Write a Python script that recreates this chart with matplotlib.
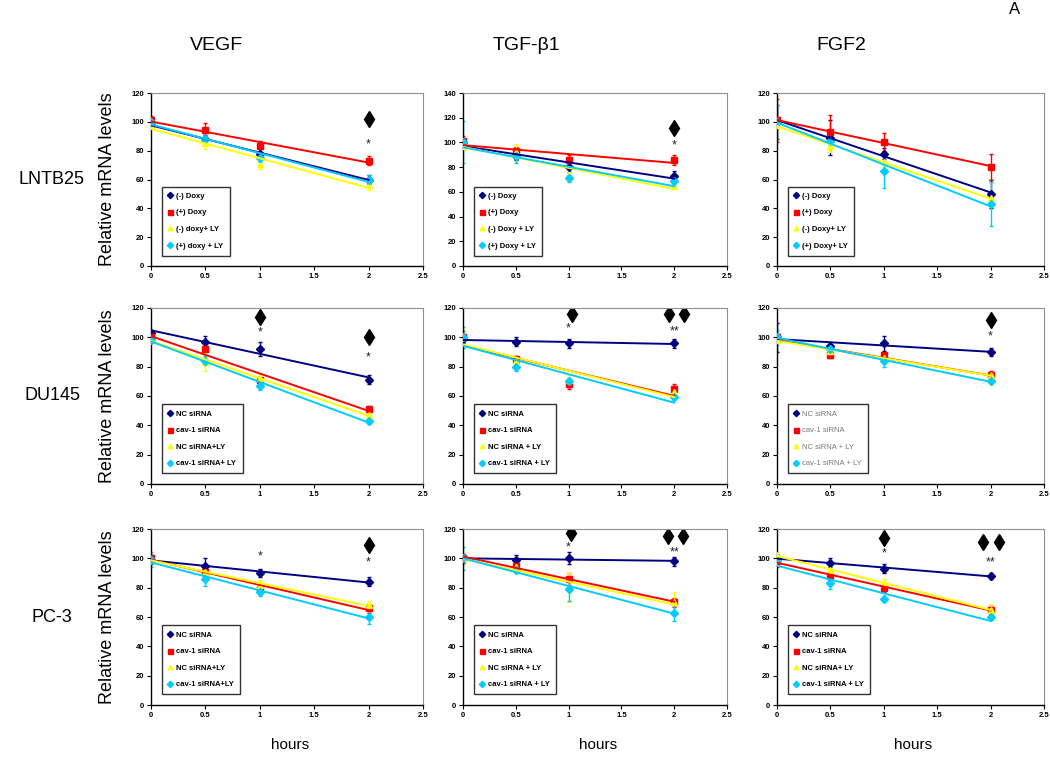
import numpy as np
import matplotlib
matplotlib.use("Agg")
import matplotlib.pyplot as plt

plt.rcParams['font.family'] = ['Liberation Sans', 'DejaVu Sans']

hours = [0, 0.5, 1, 2]
genes = ["VEGF", "TGF-\u03b21", "FGF2"]
cells = ["LNTB25", "DU145", "PC-3"]
colors = ["#000080", "#FF0000", "#FFFF00", "#00CCFF"]
markers = ["D", "s", "^", "D"]

# series order per panel: navy, red, yellow, cyan
vegf_lntb25 = [[98, 88, 78, 60], [101, 94, 83, 73], [97, 85, 71, 56], [100, 88, 75, 60]]
tgf_lntb25 = [[100, 89, 80, 73], [101, 93, 86, 86], [97, 92, 72, 65], [100, 89, 71, 69]]
fgf_lntb25 = [[100, 89, 78, 50], [101, 93, 86, 69], [98, 83, 72, 47], [100, 87, 66, 43]]
vegf_du145 = [[103, 97, 92, 71], [100, 92, 71, 51], [99, 83, 72, 47], [98, 84, 67, 43]]
tgf_du145 = [[99, 97, 96, 96], [100, 85, 68, 65], [100, 84, 71, 63], [100, 80, 70, 59]]
fgf_du145 = [[100, 94, 96, 90], [100, 88, 88, 74], [98, 91, 86, 74], [100, 92, 84, 70]]
vegf_pc3 = [[99, 95, 90, 84], [100, 91, 79, 66], [99, 91, 82, 68], [99, 86, 77, 60]]
tgf_pc3 = [[100, 99, 100, 98], [100, 95, 86, 70], [100, 94, 80, 70], [100, 92, 79, 63]]
fgf_pc3 = [[100, 97, 93, 88], [98, 88, 80, 65], [102, 92, 83, 65], [99, 83, 72, 60]]

err_vegf_lntb25 = [[2, 3, 3, 3], [3, 5, 4, 3], [2, 4, 4, 3], [2, 3, 3, 3]]
err_tgf_lntb25 = [[3, 3, 4, 4], [4, 3, 4, 4], [3, 7, 4, 3], [17, 6, 3, 3]]
err_fgf_lntb25 = [[12, 12, 4, 10], [15, 12, 6, 9], [6, 4, 4, 4], [12, 3, 12, 15]]
err_vegf_du145 = [[2, 4, 5, 3], [2, 2, 2, 2], [2, 6, 3, 3], [2, 3, 3, 2]]
err_tgf_du145 = [[3, 3, 3, 3], [4, 2, 3, 3], [5, 2, 3, 3], [7, 3, 2, 2]]
err_fgf_du145 = [[10, 3, 5, 3], [2, 2, 2, 3], [2, 2, 2, 2], [5, 2, 4, 2]]
err_vegf_pc3 = [[3, 5, 3, 3], [2, 2, 3, 3], [2, 2, 3, 3], [5, 5, 3, 5]]
err_tgf_pc3 = [[3, 3, 4, 3], [3, 2, 4, 3], [8, 2, 10, 7], [8, 2, 8, 6]]
err_fgf_pc3 = [[3, 3, 3, 2], [4, 3, 3, 3], [2, 3, 3, 3], [3, 4, 2, 2]]

labels_lntb25_vegf = ["(-) Doxy", "(+) Doxy", "(-) doxy+ LY", "(+) doxy + LY"]
labels_lntb25_tgf = ["(-) Doxy", "(+) Doxy", "(-) Doxy + LY", "(+) Doxy + LY"]
labels_lntb25_fgf = ["(-) Doxy", "(+) Doxy", "(-) Doxy+ LY", "(+) Doxy+ LY"]
labels_du145_vegf = ["NC siRNA", "cav-1 siRNA", "NC siRNA+LY", "cav-1 siRNA+ LY"]
labels_sirna = ["NC siRNA", "cav-1 siRNA", "NC siRNA + LY", "cav-1 siRNA + LY"]
labels_pc3_vegf = ["NC siRNA", "cav-1 siRNA", "NC siRNA+LY", "cav-1 siRNA+LY"]
labels_pc3_fgf = ["NC siRNA", "cav-1 siRNA", "NC siRNA+ LY", "cav-1 siRNA + LY"]

# significance marks: (x, y, text)
stars = [
    [[(2, 87, "*")], [(2, 101, "*")], []],
    [[(1, 106, "*"), (2, 89, "*")], [(1, 109, "*"), (2, 107, "**")], [(2, 103, "*")]],
    [[(1, 104, "*"), (2, 100, "*")], [(1, 110, "*"), (2, 107, "**")], [(1, 106, "*"), (2, 100, "**")]],
]
diamonds = [
    [[(2, 102)], [(2, 112)], []],
    [[(1, 114), (2, 100)], [(1.03, 116), (1.95, 116), (2.09, 116)], [(2, 112)]],
    [[(2, 109)], [(1.02, 117), (1.94, 115), (2.08, 115)], [(1, 114), (1.93, 111), (2.08, 111)]],
]

values = [[vegf_lntb25, tgf_lntb25, fgf_lntb25],
          [vegf_du145, tgf_du145, fgf_du145],
          [vegf_pc3, tgf_pc3, fgf_pc3]]
errors = [[err_vegf_lntb25, err_tgf_lntb25, err_fgf_lntb25],
          [err_vegf_du145, err_tgf_du145, err_fgf_du145],
          [err_vegf_pc3, err_tgf_pc3, err_fgf_pc3]]
legends = [[labels_lntb25_vegf, labels_lntb25_tgf, labels_lntb25_fgf],
           [labels_du145_vegf, labels_sirna, labels_sirna],
           [labels_pc3_vegf, labels_sirna, labels_pc3_fgf]]
ymax = [[120, 140, 120], [120, 120, 120], [120, 120, 120]]

W, H = 1050, 760
fig = plt.figure(figsize=(10.5, 7.6), dpi=100)

col_x = [(151, 423), (463, 727), (777, 1044)]
row_y = [(93, 266), (308, 484), (529, 705)]

for r in range(3):
    for c in range(3):
        x0, x1 = col_x[c]
        y0, y1 = row_y[r]
        ax = fig.add_axes([x0 / W, 1 - y1 / H, (x1 - x0) / W, (y1 - y0) / H])
        hx = np.array(hours)
        for k in range(4):
            vals = np.array(values[r][c][k])
            errs = errors[r][c][k]
            ax.errorbar(hx, vals, yerr=errs, fmt='none', ecolor=colors[k],
                        elinewidth=1, capsize=1.5, zorder=2)
            ax.plot(hx, vals, linestyle='none', marker=markers[k], color=colors[k],
                    markersize=4 if k != 1 else 4.5, label=legends[r][c][k], zorder=3)
            # linear trend line like Excel
            slope, icpt = np.polyfit(hx, vals, 1)
            ax.plot([0, 2], [icpt, icpt + 2 * slope], color=colors[k], lw=1.4, zorder=4)

        # pixel offset so the star glyph sits at its value
        for (sx, sy, st) in stars[r][c]:
            ax.annotate(st, (sx, sy), xytext=(0, -5), textcoords='offset points',
                        ha='center', va='baseline', fontsize=9, color='#222222')
        for (dx, dy) in diamonds[r][c]:
            ax.plot(dx, dy, marker='d', color='black', markersize=8, linestyle='none')

        ax.set_xlim(0, 2.5)
        ax.set_ylim(0, ymax[r][c])
        ax.set_xticks([0, 0.5, 1, 1.5, 2, 2.5])
        ax.set_xticklabels(["0", "0.5", "1", "1.5", "2", "2.5"])
        ax.set_yticks(np.arange(0, ymax[r][c] + 1, 20))
        ax.tick_params(labelsize=5.5, length=3, width=0.8, pad=2)
        for lab in ax.get_xticklabels() + ax.get_yticklabels():
            lab.set_fontweight('bold')
        for s in ['top', 'right']:
            ax.spines[s].set_color('#909090')
            ax.spines[s].set_linewidth(0.8)
        for s in ['left', 'bottom']:
            ax.spines[s].set_linewidth(1)

        gray = (r == 1 and c == 2)
        leg = ax.legend(loc='lower left', bbox_to_anchor=(0.04, 0.06), fontsize=5.5,
                        frameon=True, fancybox=False, edgecolor='black',
                        labelspacing=1.2, handlelength=0.6, handletextpad=0.5,
                        borderpad=0.8, borderaxespad=0, markerscale=0.8)
        leg.get_frame().set_linewidth(1)
        for t in leg.get_texts():
            if gray:
                t.set_color('#777777')
            else:
                t.set_fontweight('bold')

        if c == 0:
            ax.set_ylabel("Relative mRNA levels", fontsize=13, labelpad=11)
            fig.text(52 / W, 1 - ((y0 + y1) / 2) / H, cells[r], fontsize=13,
                     ha='center', va='center')
        if r == 0:
            fig.text((x0 + (x1 - x0) * 0.24) / W, 1 - 45 / H, genes[c], fontsize=14,
                     ha='center', va='center')
        if r == 2:
            fig.text((x0 + (x1 - x0) * 0.51) / W, 1 - 745 / H, "hours", fontsize=11,
                     ha='center', va='center')

fig.text(1015 / W, 1 - 10 / H, "A", fontsize=12, ha='center', va='center')

fig.savefig("out.png", dpi=100)
